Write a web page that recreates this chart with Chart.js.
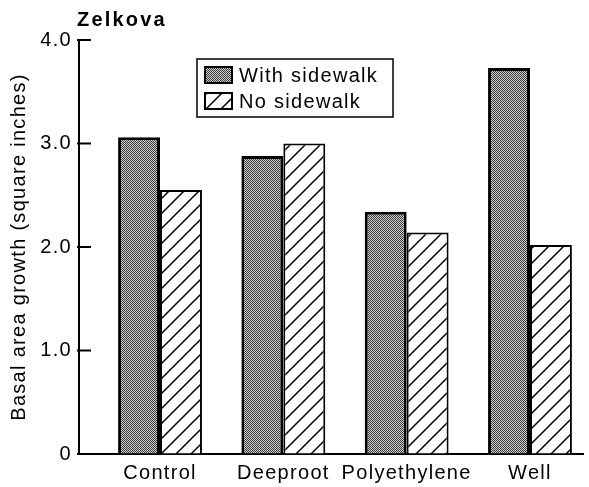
<!DOCTYPE html>
<html><head><meta charset="utf-8">
<script src="https://cdn.jsdelivr.net/npm/chart.js@4/dist/chart.umd.min.js"></script>
<style>html,body{margin:0;padding:0;background:#fff}</style>
</head><body>
<canvas id="c" width="589" height="487"></canvas>
<script>
const chartTitle = 'Zelkova';
const categories = ['Control', 'Deeproot', 'Polyethylene', 'Well'];
const seriesNames = ['With sidewalk', 'No sidewalk'];
const withSidewalk = [3.06, 2.88, 2.34, 3.73];
const noSidewalk = [2.55, 3.00, 2.14, 2.02];
const yTicks = [0, 1, 2, 3, 4];
const yTickLabels = ['0', '1.0', '2.0', '3.0', '4.0'];
const yTitle = 'Basal area growth (square inches)';

const FONT = '"Liberation Sans", Arial, Helvetica, sans-serif';
const SPACING = '1.3px';

function stipple() {
  const c = document.createElement('canvas'); c.width = c.height = 4;
  const g = c.getContext('2d');
  g.fillStyle = '#cfcfcf'; g.fillRect(0, 0, 4, 4);
  g.fillStyle = '#3a3a3a';
  for (let y = 0; y < 4; y++) for (let x = 0; x < 4; x++) if ((x + y) % 2 === 0) g.fillRect(x, y, 1, 1);
  return g.createPattern(c, 'repeat');
}
function hatch() {
  const s = 15;
  const c = document.createElement('canvas'); c.width = c.height = s;
  const g = c.getContext('2d');
  g.fillStyle = '#fff'; g.fillRect(0, 0, s, s);
  g.strokeStyle = '#000'; g.lineWidth = 1.5;
  g.beginPath();
  g.moveTo(0, s); g.lineTo(s, 0);
  g.moveTo(-2, 2); g.lineTo(2, -2);
  g.moveTo(s - 2, s + 2); g.lineTo(s + 2, s - 2);
  g.stroke();
  return g.createPattern(c, 'repeat');
}

const setSpacing = (chart) => { chart.ctx.letterSpacing = SPACING; };

const decor = {
  id: 'decor',
  beforeUpdate: setSpacing,
  beforeLayout: setSpacing,
  beforeDraw: setSpacing,
  afterDraw(chart) {
    const ctx = chart.ctx, ca = chart.chartArea, y = chart.scales.y;
    ctx.save();
    // inward tick marks
    ctx.strokeStyle = '#000'; ctx.lineWidth = 2;
    yTicks.forEach(v => {
      const py = y.getPixelForValue(v);
      ctx.beginPath(); ctx.moveTo(ca.left - 2, py); ctx.lineTo(ca.left + 12, py); ctx.stroke();
    });
    // title
    ctx.fillStyle = '#000';
    ctx.font = 'bold 20px ' + FONT;
    ctx.letterSpacing = '2.2px';
    ctx.textBaseline = 'alphabetic'; ctx.textAlign = 'left';
    ctx.fillText(chartTitle, 77, 26);
    // legend
    ctx.letterSpacing = SPACING;
    const bx = 197, by = 59, bw = 196, bh = 58;
    ctx.lineWidth = 1.5; ctx.strokeStyle = '#000';
    ctx.fillStyle = '#fff'; ctx.fillRect(bx, by, bw, bh);
    ctx.strokeRect(bx, by, bw, bh);
    chart.data.datasets.forEach((ds, i) => {
      const ry = by + 8 + i * 26;
      ctx.fillStyle = ds.backgroundColor; ctx.fillRect(205, ry, 27, 16);
      ctx.lineWidth = 2; ctx.strokeStyle = '#000'; ctx.strokeRect(205, ry, 27, 16);
      ctx.fillStyle = '#000'; ctx.font = '20px ' + FONT; ctx.textBaseline = 'middle';
      ctx.fillText(ds.label, 239, ry + 9);
    });
    ctx.restore();
  }
};

const toPoints = arr => categories.map((c, i) => ({ x: i + 1, y: arr[i] }));

new Chart(document.getElementById('c'), {
  type: 'bar',
  data: {
    datasets: [
      { label: seriesNames[0], data: toPoints(withSidewalk), backgroundColor: stipple(),
        borderColor: '#000', borderWidth: 3, categoryPercentage: 0.68, barPercentage: 1 },
      { label: seriesNames[1], data: toPoints(noSidewalk), backgroundColor: hatch(),
        borderColor: '#000', borderWidth: 2, categoryPercentage: 0.68, barPercentage: 1 }
    ]
  },
  options: {
    responsive: false, animation: false, devicePixelRatio: 1,
    layout: { padding: { top: 40, right: 6, left: 0, bottom: 0 } },
    plugins: { legend: { display: false }, tooltip: { enabled: false }, title: { display: false } },
    scales: {
      x: {
        type: 'linear', min: 0.343, max: 4.43, offset: false,
        afterBuildTicks: s => { s.ticks = categories.map((c, i) => ({ value: i + 1 })); },
        afterFit: s => { s.height = 33; },
        border: { display: true, color: '#000', width: 2 },
        grid: { display: true, drawOnChartArea: false, drawTicks: false, offset: false },
        ticks: { color: '#000', font: { family: FONT, size: 20 }, padding: 7, maxRotation: 0, autoSkip: false,
          callback: v => categories[Math.round(v) - 1] }
      },
      y: {
        min: 0, max: 4,
        afterBuildTicks: s => { s.ticks = yTicks.map(v => ({ value: v })); },
        afterFit: s => { s.width = 79; },
        border: { display: true, color: '#000', width: 2 },
        grid: { display: true, drawOnChartArea: false, drawTicks: false },
        ticks: { color: '#000', font: { family: FONT, size: 20 }, padding: 7,
          callback: v => yTickLabels[yTicks.indexOf(v)] },
        title: { display: true, text: yTitle, color: '#000', font: { family: FONT, size: 20 }, padding: { top: 7, bottom: 0 } }
      }
    }
  },
  plugins: [decor]
});
</script>
</body></html>
